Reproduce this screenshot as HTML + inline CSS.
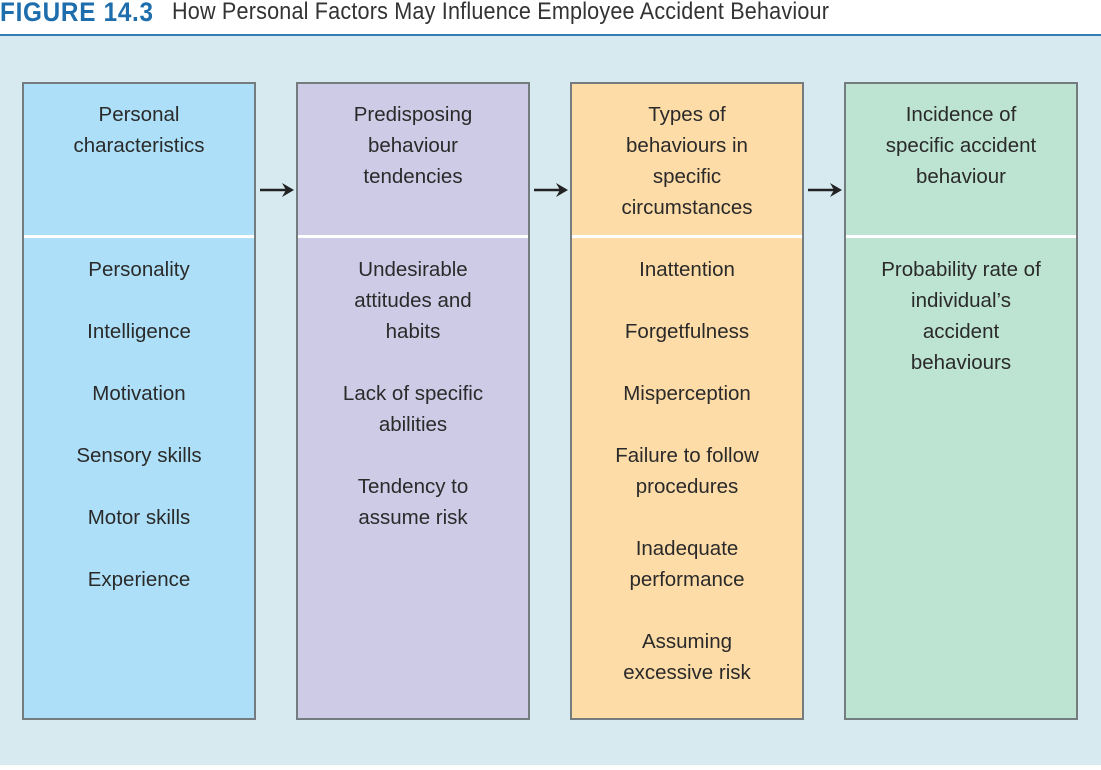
<!DOCTYPE html>
<html><head><style>
body{margin:0;width:1101px;height:770px;background:#fff;position:relative;overflow:hidden;font-family:"Liberation Sans",sans-serif;}
.t1{position:absolute;left:0;top:-3px;font-size:27px;font-weight:bold;color:#1e6ead;transform:scaleX(0.9);transform-origin:left;letter-spacing:0.8px;}
.t2{position:absolute;left:172px;top:-2px;font-size:24px;color:#333;transform:scaleX(0.9);transform-origin:left;letter-spacing:0.2px;}
.rule{position:absolute;left:0;top:34px;width:1101px;height:2px;background:#2f7fb3;}
.bg{position:absolute;left:0;top:36px;width:1101px;height:729px;background:#d6eaf0;}
.box{position:absolute;top:82px;width:230px;height:634px;border:2px solid #747c80;color:#2a2a2a;font-size:20.5px;line-height:31px;text-align:center;}
.box .h{position:absolute;left:0;right:0;top:15px;}
.box .d{position:absolute;left:0;right:0;top:151px;height:3px;background:#fff;}
.box .b{position:absolute;left:0;right:0;top:170px;}
.arr{position:absolute;top:183px;width:36px;height:14px;}
</style></head><body>
<div class="t1">FIGURE 14.3</div>
<div class="t2">How Personal Factors May Influence Employee Accident Behaviour</div>
<div class="rule"></div>
<div class="bg"></div>

<div class="box" style="left:22px;background:#ade0f8">
<div class="h">Personal<br>characteristics</div><div class="d"></div>
<div class="b">Personality<br><br>Intelligence<br><br>Motivation<br><br>Sensory skills<br><br>Motor skills<br><br>Experience</div></div>

<div class="box" style="left:296px;background:#cecbe7">
<div class="h">Predisposing<br>behaviour<br>tendencies</div><div class="d"></div>
<div class="b">Undesirable<br>attitudes and<br>habits<br><br>Lack of specific<br>abilities<br><br>Tendency to<br>assume risk</div></div>

<div class="box" style="left:570px;background:#fedca7">
<div class="h">Types of<br>behaviours in<br>specific<br>circumstances</div><div class="d"></div>
<div class="b">Inattention<br><br>Forgetfulness<br><br>Misperception<br><br>Failure to follow<br>procedures<br><br>Inadequate<br>performance<br><br>Assuming<br>excessive risk</div></div>

<div class="box" style="left:844px;background:#bde3d3">
<div class="h">Incidence of<br>specific accident<br>behaviour</div><div class="d"></div>
<div class="b">Probability rate of<br>individual’s<br>accident<br>behaviours</div></div>

<svg class="arr" style="left:259px" viewBox="0 0 36 14"><line x1="1" y1="7" x2="27" y2="7" stroke="#222" stroke-width="2.5"/><path d="M23 0 L35 7 L23 14 L27 7Z" fill="#222"/></svg>
<svg class="arr" style="left:533px" viewBox="0 0 36 14"><line x1="1" y1="7" x2="27" y2="7" stroke="#222" stroke-width="2.5"/><path d="M23 0 L35 7 L23 14 L27 7Z" fill="#222"/></svg>
<svg class="arr" style="left:807px" viewBox="0 0 36 14"><line x1="1" y1="7" x2="27" y2="7" stroke="#222" stroke-width="2.5"/><path d="M23 0 L35 7 L23 14 L27 7Z" fill="#222"/></svg>
</body></html>
